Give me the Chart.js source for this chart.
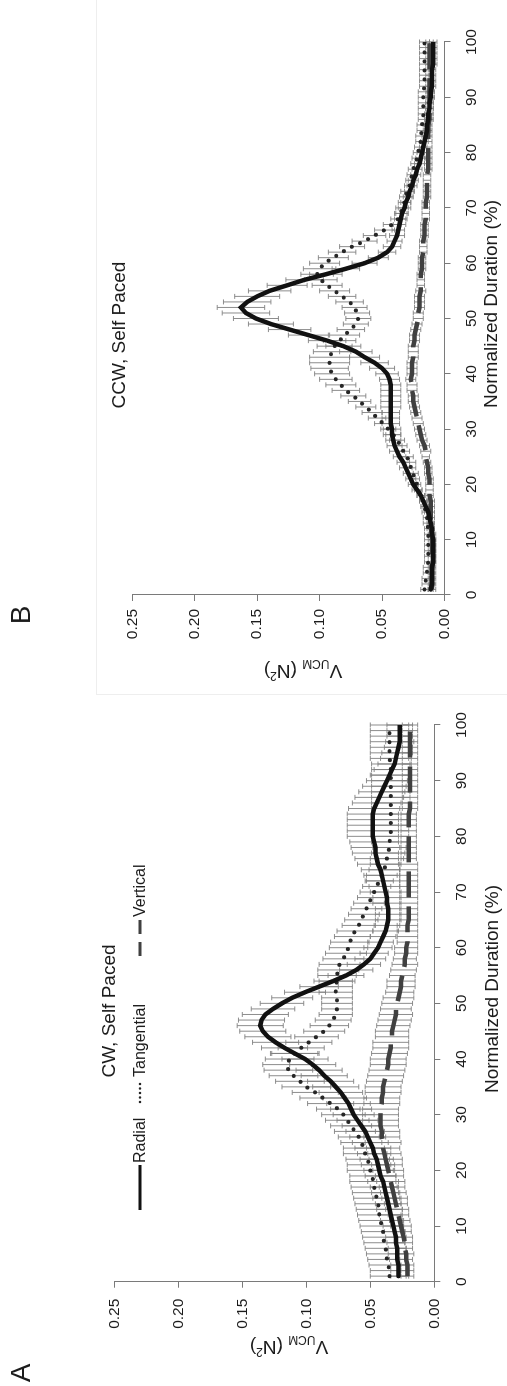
<!DOCTYPE html>
<html>
<head>
<meta charset="utf-8">
<script src="https://cdn.jsdelivr.net/npm/chart.js@4.4.1/dist/chart.umd.min.js"></script>
<style>
html, body { margin: 0; padding: 0; background: #fff; overflow: hidden; }
body { width: 507px; height: 1386px; position: relative; }
/* the figure is laid out in landscape, then turned a quarter turn */
#sheet { position: absolute; left: 0; top: 0; width: 1386px; height: 507px; transform-origin: 0 0; transform: translateY(1386px) rotate(-90deg); }
#chartA { position: absolute; left: 0; top: 0; }
#chartB { position: absolute; left: 700px; top: 0; }
#frameB { position: absolute; left: 691px; top: 96px; width: 695px; height: 411px; border-left: 1px solid #eee; border-top: 1px solid #eee; }
</style>
</head>
<body>
<div id="sheet">
  <div id="frameB"></div>
  <canvas id="chartA" width="700" height="507"></canvas>
  <canvas id="chartB" width="686" height="507"></canvas>
</div>
<script>
const duration = [1,2,3,4,5,6,7,8,9,10,11,12,13,14,15,16,17,18,19,20,21,22,23,24,25,26,27,28,29,30,31,32,33,34,35,36,37,38,39,40,41,42,43,44,45,46,47,48,49,50,51,52,53,54,55,56,57,58,59,60,61,62,63,64,65,66,67,68,69,70,71,72,73,74,75,76,77,78,79,80,81,82,83,84,85,86,87,88,89,90,91,92,93,94,95,96,97,98,99,100]
const durationTicks = [0, 10, 20, 30, 40, 50, 60, 70, 80, 90, 100]
const valueTicks = [0, 0.05, 0.10, 0.15, 0.20, 0.25]
const seriesNames = ['Radial', 'Tangential', 'Vertical']

// A: CW, self paced
const cwRadial = [.028,.028,.028,.029,.029,.029,.030,.030,.031,.032,
  .033,.034,.035,.036,.037,.038,.039,.040,.042,.043,
  .044,.045,.047,.048,.050,.052,.054,.057,.060,.063,
  .065,.067,.070,.073,.077,.081,.086,.090,.095,.101,
  .109,.117,.124,.130,.134,.136,.135,.132,.126,.119,
  .111,.101,.090,.079,.069,.061,.055,.050,.047,.044,
  .042,.040,.038,.037,.036,.036,.036,.037,.037,.038,
  .039,.040,.041,.042,.044,.045,.046,.046,.047,.048,
  .048,.048,.048,.048,.047,.045,.043,.041,.039,.037,
  .035,.033,.031,.030,.029,.028,.027,.027,.027,.027]
const cwRadialErr = [.006,.006,.006,.006,.007,.007,.007,.008,.008,.008,
  .009,.009,.010,.010,.011,.011,.011,.012,.012,.012,
  .013,.013,.013,.014,.014,.014,.015,.015,.016,.016,
  .016,.017,.017,.017,.018,.018,.018,.018,.018,.018,
  .018,.018,.018,.018,.018,.018,.018,.018,.017,.017,
  .016,.016,.015,.015,.014,.013,.013,.012,.011,.011,
  .010,.010,.010,.010,.010,.010,.010,.011,.011,.012,
  .012,.013,.014,.015,.016,.017,.018,.019,.019,.020,
  .020,.020,.020,.020,.020,.019,.019,.018,.017,.016,
  .015,.014,.013,.012,.012,.011,.011,.010,.010,.010]
const cwTangential = [.035,.035,.036,.037,.037,.038,.039,.040,.040,.041,
  .042,.043,.043,.044,.045,.046,.047,.048,.048,.050,
  .051,.052,.054,.055,.057,.059,.062,.065,.068,.071,
  .075,.081,.087,.093,.100,.105,.110,.114,.115,.113,
  .109,.104,.098,.092,.086,.082,.079,.077,.076,.076,
  .076,.077,.077,.076,.076,.075,.074,.071,.069,.067,
  .066,.064,.062,.059,.057,.055,.053,.051,.049,.047,
  .045,.043,.041,.039,.038,.037,.036,.035,.035,.034,
  .034,.034,.034,.034,.034,.034,.034,.034,.034,.034,
  .034,.034,.034,.035,.035,.035,.035,.035,.035,.035]
const cwTangentialErr = [.015,.015,.015,.015,.016,.016,.016,.016,.017,.017,
  .017,.017,.018,.018,.018,.018,.018,.018,.018,.018,
  .017,.017,.017,.016,.016,.016,.016,.016,.017,.017,
  .017,.018,.018,.018,.019,.019,.019,.019,.019,.019,
  .019,.018,.018,.017,.016,.015,.014,.013,.012,.012,
  .012,.013,.013,.014,.015,.016,.016,.016,.016,.015,
  .015,.014,.014,.013,.013,.012,.012,.012,.011,.011,
  .011,.011,.012,.012,.012,.013,.013,.013,.014,.014,
  .014,.014,.014,.015,.015,.015,.015,.015,.015,.015,
  .015,.015,.015,.015,.015,.015,.015,.015,.015,.015]
const cwVertical = [.021,.021,.021,.022,.022,.023,.023,.024,.025,.026,
  .027,.028,.029,.030,.031,.032,.033,.034,.035,.036,
  .037,.038,.039,.040,.040,.041,.041,.042,.042,.042,
  .042,.041,.041,.040,.040,.039,.038,.037,.036,.036,
  .035,.034,.034,.033,.033,.032,.031,.030,.030,.029,
  .028,.027,.026,.026,.025,.024,.023,.023,.022,.022,
  .021,.021,.021,.021,.020,.020,.020,.020,.020,.020,
  .020,.020,.020,.020,.020,.020,.020,.020,.020,.020,
  .020,.020,.020,.020,.019,.019,.019,.019,.019,.019,
  .019,.019,.019,.019,.019,.019,.019,.019,.019,.019]
const cwVerticalErr = [.005,.005,.005,.005,.006,.006,.006,.007,.007,.008,
  .008,.008,.009,.009,.010,.010,.010,.011,.011,.012,
  .012,.013,.013,.013,.014,.014,.014,.014,.014,.014,
  .014,.014,.014,.014,.014,.014,.014,.014,.014,.014,
  .014,.014,.014,.013,.013,.013,.013,.013,.012,.012,
  .012,.011,.011,.011,.010,.010,.010,.009,.009,.009,
  .008,.008,.008,.008,.007,.007,.007,.007,.007,.007,
  .007,.007,.007,.007,.007,.006,.006,.006,.006,.006,
  .006,.006,.006,.006,.006,.006,.006,.006,.006,.006,
  .006,.006,.006,.006,.006,.006,.006,.006,.006,.006]

// B: CCW, self paced
const ccwRadial = [.011,.010,.010,.010,.010,.009,.009,.009,.009,.009,
  .010,.010,.011,.012,.013,.015,.017,.019,.022,.025,
  .027,.029,.031,.033,.036,.038,.040,.041,.042,.042,
  .043,.043,.043,.043,.043,.043,.043,.043,.044,.046,
  .050,.056,.064,.071,.081,.094,.109,.124,.139,.151,
  .159,.163,.158,.150,.140,.126,.112,.095,.079,.064,
  .053,.046,.042,.040,.038,.037,.036,.035,.034,.032,
  .031,.029,.028,.026,.025,.023,.022,.020,.019,.018,
  .017,.016,.015,.014,.014,.013,.013,.012,.012,.011,
  .011,.010,.010,.010,.010,.009,.009,.009,.009,.009]
const ccwRadialErr = [.002,.002,.002,.002,.002,.002,.002,.002,.002,.002,
  .002,.002,.002,.002,.003,.003,.003,.003,.004,.004,
  .004,.004,.005,.005,.005,.006,.006,.006,.007,.007,
  .007,.007,.007,.008,.008,.008,.008,.008,.008,.009,
  .010,.011,.012,.013,.014,.015,.016,.017,.018,.018,
  .019,.019,.019,.018,.017,.016,.015,.013,.011,.010,
  .008,.007,.007,.006,.006,.005,.005,.005,.005,.005,
  .004,.004,.004,.004,.004,.004,.004,.004,.004,.004,
  .003,.003,.003,.003,.003,.003,.003,.003,.003,.003,
  .003,.003,.003,.003,.003,.003,.003,.003,.003,.003]
const ccwTangential = [.016,.015,.015,.014,.014,.013,.013,.013,.013,.013,
  .013,.013,.014,.014,.015,.016,.017,.019,.021,.022,
  .024,.025,.027,.028,.030,.033,.035,.038,.041,.045,
  .049,.054,.058,.063,.068,.073,.079,.083,.087,.090,
  .092,.092,.092,.090,.088,.084,.080,.075,.071,.069,
  .070,.072,.076,.082,.088,.094,.099,.102,.100,.096,
  .089,.082,.074,.064,.056,.048,.042,.037,.035,.034,
  .032,.031,.030,.028,.027,.026,.025,.023,.022,.021,
  .020,.019,.019,.018,.018,.017,.017,.017,.017,.017,
  .017,.016,.016,.016,.016,.016,.016,.016,.016,.016]
const ccwTangentialErr = [.003,.003,.003,.003,.003,.003,.003,.003,.003,.003,
  .003,.003,.003,.003,.003,.003,.003,.003,.003,.003,
  .004,.004,.004,.005,.005,.005,.005,.006,.006,.006,
  .007,.007,.008,.008,.009,.010,.011,.012,.013,.014,
  .015,.016,.016,.015,.014,.013,.012,.011,.010,.010,
  .010,.010,.011,.011,.012,.012,.013,.013,.013,.012,
  .012,.011,.010,.010,.009,.008,.007,.006,.005,.005,
  .005,.005,.005,.004,.004,.004,.004,.004,.004,.004,
  .004,.004,.004,.004,.004,.004,.004,.004,.004,.004,
  .004,.004,.004,.004,.004,.004,.004,.004,.004,.004]
const ccwVertical = [.010,.010,.010,.010,.010,.010,.010,.010,.010,.010,
  .010,.011,.011,.011,.011,.011,.011,.012,.012,.012,
  .012,.013,.013,.014,.015,.015,.016,.018,.019,.020,
  .021,.022,.023,.024,.025,.025,.026,.026,.027,.026,
  .026,.026,.025,.025,.025,.024,.024,.023,.022,.021,
  .021,.020,.020,.020,.019,.019,.019,.019,.018,.018,
  .018,.017,.017,.017,.016,.016,.016,.015,.015,.015,
  .015,.014,.014,.014,.014,.014,.013,.013,.013,.013,
  .013,.013,.013,.013,.013,.012,.012,.012,.012,.012,
  .012,.012,.012,.012,.012,.012,.012,.012,.012,.012]
const ccwVerticalErr = [.003,.003,.003,.003,.003,.003,.003,.003,.003,.003,
  .003,.003,.003,.003,.003,.003,.003,.003,.003,.003,
  .003,.003,.003,.003,.003,.004,.004,.004,.004,.004,
  .004,.004,.004,.004,.004,.004,.004,.004,.004,.004,
  .004,.004,.004,.004,.004,.004,.004,.004,.004,.004,
  .004,.004,.004,.004,.004,.003,.003,.003,.003,.003,
  .003,.003,.003,.003,.003,.003,.003,.003,.003,.003,
  .003,.003,.003,.003,.003,.003,.003,.003,.003,.003,
  .003,.003,.003,.003,.003,.003,.003,.003,.003,.003,
  .003,.003,.003,.003,.003,.003,.003,.003,.003,.003]

const FONT = '"Liberation Sans", Arial, Helvetica, sans-serif'
const INK = '#1c1c1c'
const AXIS = '#7a7a7a'

const lineStyles = [
  { borderColor: '#111', borderWidth: 4.5, borderDash: [], borderCapStyle: 'round' },
  { borderColor: '#262626', borderWidth: 4.2, borderDash: [0, 9], borderCapStyle: 'round' },
  { borderColor: '#404040', borderWidth: 4.5, borderDash: [26, 9], borderCapStyle: 'butt' }
]

function makeSet(i, mean, err) {
  return Object.assign({
    label: seriesNames[i],
    data: duration.map((d, k) => ({ x: d, y: mean[k] })),
    err: err,
    pointRadius: 0,
    tension: 0,
    fill: false
  }, lineStyles[i])
}

// vertical error bars with small caps, under the curves
const errorBars = {
  id: 'errorBars',
  beforeDatasetsDraw(chart) {
    const { ctx, scales: { x, y } } = chart
    ctx.save()
    ctx.strokeStyle = '#808080'
    ctx.lineWidth = 0.9
    chart.data.datasets.forEach(ds => {
      ds.data.forEach((p, k) => {
        const px = x.getPixelForValue(p.x)
        const hi = y.getPixelForValue(p.y + ds.err[k])
        const lo = y.getPixelForValue(p.y - ds.err[k])
        ctx.beginPath()
        ctx.moveTo(px, hi); ctx.lineTo(px, lo)
        ctx.moveTo(px - 2.5, hi); ctx.lineTo(px + 2.5, hi)
        ctx.moveTo(px - 2.5, lo); ctx.lineTo(px + 2.5, lo)
        ctx.stroke()
      })
    })
    ctx.restore()
  }
}

const panelText = {
  id: 'panelText',
  afterDraw(chart, args, o) {
    const ctx = chart.ctx
    ctx.save()
    ctx.fillStyle = INK
    ctx.textAlign = 'center'
    ctx.textBaseline = 'middle'
    ctx.font = '28px ' + FONT
    ctx.fillText(o.letter, o.letterAt[0], o.letterAt[1])
    ctx.font = '19px ' + FONT
    ctx.fillText(o.title, o.titleAt[0], o.titleAt[1])
    ctx.fillText('Normalized Duration (%)', o.xTitleAt[0], o.xTitleAt[1])

    // V_UCM (N²), turned to read upward
    const parts = [['V', 19, 0], ['UCM', 12, 5], [' (N', 19, 0], ['2', 12, -7], [')', 19, 0]]
    let total = 0
    parts.forEach(p => { ctx.font = p[1] + 'px ' + FONT; total += ctx.measureText(p[0]).width })
    ctx.translate(o.yTitleAt[0], o.yTitleAt[1])
    ctx.rotate(-Math.PI / 2)
    ctx.textAlign = 'left'
    ctx.textBaseline = 'alphabetic'
    let cx = -total / 2
    parts.forEach(p => {
      ctx.font = p[1] + 'px ' + FONT
      ctx.fillText(p[0], cx, 7 + p[2])
      cx += ctx.measureText(p[0]).width
    })
    ctx.setTransform(1, 0, 0, 1, 0, 0)

    if (o.legend) {
      const ly = o.legend.y
      o.legend.items.forEach((it, i) => {
        const ds = chart.data.datasets[i]
        ctx.beginPath()
        ctx.strokeStyle = ds.borderColor
        ctx.lineWidth = it.width
        ctx.lineCap = it.cap
        ctx.setLineDash(it.dash)
        ctx.moveTo(it.from, ly); ctx.lineTo(it.to, ly)
        ctx.stroke()
        ctx.setLineDash([])
        ctx.font = '16px ' + FONT
        ctx.textAlign = 'left'
        ctx.textBaseline = 'middle'
        ctx.fillText(ds.label, it.text, ly + 1)
      })
    }
    ctx.restore()
  }
}

function makeChart(id, means, errs, box, text) {
  const ctx = document.getElementById(id)
  const datasets = means.map((m, i) => makeSet(i, m, errs[i]))
  return new Chart(ctx, {
    type: 'line',
    data: { datasets: datasets },
    options: {
      responsive: false,
      animation: false,
      devicePixelRatio: 1,
      layout: { padding: { left: 0, right: box.right, top: box.top, bottom: 0 } },
      plugins: { legend: { display: false }, tooltip: { enabled: false }, panelText: text },
      scales: {
        x: {
          type: 'linear', min: 0, max: 100,
          afterBuildTicks: s => { s.ticks = durationTicks.map(v => ({ value: v })) },
          afterFit: s => { s.height = box.bottom },
          grid: { drawOnChartArea: false, drawTicks: true, tickLength: 6, color: AXIS },
          border: { display: true, color: AXIS, width: 1 },
          ticks: { color: INK, font: { family: FONT, size: 15.5 }, padding: box.padX, maxRotation: 0, autoSkip: false }
        },
        y: {
          type: 'linear', min: 0, max: 0.25,
          afterBuildTicks: s => { s.ticks = valueTicks.map(v => ({ value: v })) },
          afterFit: s => { s.width = box.left },
          grid: { drawOnChartArea: false, drawTicks: true, tickLength: 6, color: AXIS },
          border: { display: true, color: AXIS, width: 1 },
          ticks: { color: INK, font: { family: FONT, size: 15.5 }, padding: box.padY, callback: v => v.toFixed(2) }
        }
      }
    },
    plugins: [errorBars, panelText]
  })
}

makeChart('chartA',
  [cwRadial, cwTangential, cwVertical],
  [cwRadialErr, cwTangentialErr, cwVerticalErr],
  { left: 104.3, right: 39, top: 114.3, bottom: 72.7, padX: 12.5, padY: 11 },
  {
    letter: 'A', letterAt: [13, 22],
    title: 'CW, Self Paced', titleAt: [375, 110],
    xTitleAt: [397, 493],
    yTitleAt: [38, 289],
    legend: {
      y: 140,
      items: [
        { from: 176, to: 221, text: 223, width: 3, dash: [], cap: 'butt' },
        { from: 284, to: 306, text: 309, width: 2.5, dash: [0, 4.5], cap: 'round' },
        { from: 430, to: 466, text: 469, width: 3, dash: [14, 8], cap: 'butt' }
      ]
    }
  })

makeChart('chartB',
  [ccwRadial, ccwTangential, ccwVertical],
  [ccwRadialErr, ccwTangentialErr, ccwVerticalErr],
  { left: 91, right: 42, top: 132.3, bottom: 62.5, padX: 12, padY: 8 },
  {
    letter: 'B', letterAt: [71, 22],
    title: 'CCW, Self Paced', titleAt: [351, 120],
    xTitleAt: [382, 492],
    yTitleAt: [14, 303],
    legend: null
  })
</script>
</body>
</html>
